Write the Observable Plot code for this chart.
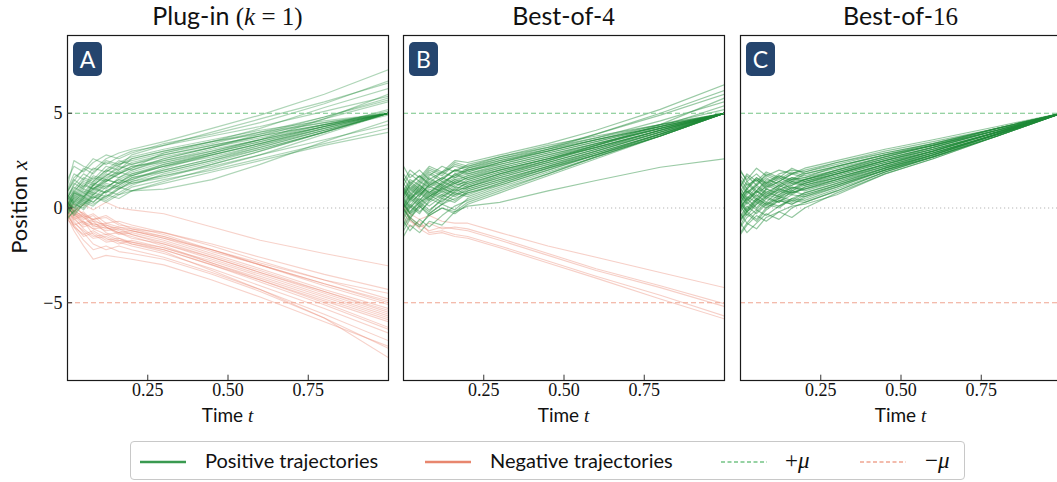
<!DOCTYPE html>
<html>
<head>
<meta charset="utf-8">
<script src="https://cdn.jsdelivr.net/npm/d3@7"></script>
<script src="https://cdn.jsdelivr.net/npm/@observablehq/plot@0.6"></script>
<style>
  html, body { margin: 0; padding: 0; background: #fff; }
  #root { position: relative; width: 1057px; height: 482px; overflow: hidden; background: #fff; font-family: Lato, "Liberation Sans", sans-serif; color: #111; }
  .abs { position: absolute; white-space: nowrap; }
  .title { font-size: 25px; text-align: center; width: 340px; }
  .xlab { font-size: 19px; line-height: 22px; text-align: center; width: 200px; }
  .m { font-family: "Liberation Serif", "DejaVu Serif", serif; }
  .mi { font-family: "Liberation Serif", "DejaVu Serif", serif; font-style: italic; }
  .badge { width: 29px; height: 34px; background: #25456e; color: #fff; border-radius: 5px; font-size: 23px; text-align: center; line-height: 34px; }
  #legend { left: 130px; top: 441px; width: 833px; height: 37px; border: 1px solid #c8c8c8; border-radius: 4px; background: #fff; }
  .lt { font-size: 20px; top: 6px; }
  .lt .m, .lt .mi { font-size: 23px; }
</style>
</head>
<body>
<div id="root"></div>
<script>
// ---------- data ----------
const T = [0, 0.02, 0.05, 0.08, 0.12, 0.16, 0.2, 0.3, 0.45, 0.6, 0.8, 1.0];
const xTicks = [0.25, 0.5, 0.75];
const yTicks = [-5, 0, 5];
const mu = 5;

const posA = [
  [0.2, 0.8, 0.5, 1.2, 1.0, 1.6, 1.9, 2.4, 3.0, 3.6, 4.3, 5.0],
  [-0.3, 0.1, 0.6, 0.3, 0.9, 1.3, 1.5, 2.1, 2.8, 3.4, 4.2, 5.0],
  [0.5, 1.2, 1.8, 1.5, 2.2, 2.0, 2.6, 3.0, 3.5, 3.9, 4.5, 5.0],
  [0.1, -0.4, 0.2, 0.7, 0.5, 1.0, 1.3, 1.6, 2.3, 3.0, 4.0, 5.0],
  [0.8, 1.5, 1.1, 1.9, 2.4, 2.2, 2.8, 3.3, 4.0, 4.7, 5.6, 6.6],
  [-0.1, 0.4, 1.0, 0.8, 1.4, 1.8, 2.1, 2.6, 3.2, 3.8, 4.7, 5.6],
  [0.3, 0.0, 0.5, 1.1, 0.8, 1.2, 1.6, 1.9, 2.5, 3.2, 4.1, 5.0],
  [0.0, 0.6, 0.3, 0.9, 1.5, 1.3, 1.7, 2.3, 2.9, 3.5, 4.3, 5.0],
  [1.2, 2.5, 2.2, 2.0, 2.6, 2.9, 3.1, 3.5, 4.2, 4.9, 6.0, 7.3],
  [-0.5, -0.2, 0.4, 0.2, 0.6, 1.1, 0.9, 1.4, 2.1, 2.8, 3.9, 5.0],
  [0.4, 0.9, 1.4, 1.2, 1.7, 2.1, 2.3, 2.7, 3.2, 3.7, 4.4, 5.0],
  [0.6, 0.2, 0.7, 1.3, 1.1, 1.5, 1.8, 2.2, 2.7, 3.3, 4.1, 4.9],
  [-0.2, 0.3, -0.1, 0.5, 0.9, 0.7, 1.1, 1.5, 2.0, 2.6, 3.4, 4.2],
  [0.9, 1.6, 2.0, 2.6, 2.3, 2.7, 3.0, 3.3, 3.8, 4.3, 5.1, 5.9],
  [0.2, 0.7, 1.3, 1.0, 1.6, 1.9, 2.2, 2.5, 3.1, 3.6, 4.4, 5.1],
  [-0.4, 0.2, 0.0, 0.6, 0.4, 0.8, 1.2, 1.8, 2.4, 3.1, 4.0, 5.0],
  [0.7, 1.1, 0.8, 1.4, 2.0, 1.8, 2.1, 2.9, 3.4, 4.0, 4.8, 5.7],
  [0.0, 0.5, 1.1, 1.7, 1.5, 2.0, 2.4, 2.8, 3.3, 3.8, 4.4, 5.0],
  [0.3, -0.2, 0.3, 0.1, 0.7, 0.5, 0.9, 1.3, 1.9, 2.5, 3.3, 4.0],
  [1.0, 1.8, 1.5, 2.1, 1.9, 2.4, 2.7, 3.1, 3.6, 4.1, 4.6, 5.0],
  [-0.6, -0.1, 0.5, 0.3, 0.9, 1.2, 1.6, 2.0, 2.6, 3.3, 4.2, 5.0],
  [0.1, 0.8, 0.6, 1.2, 1.7, 2.2, 2.0, 2.6, 3.2, 3.9, 4.8, 5.8],
  [0.5, 1.3, 1.0, 1.6, 1.4, 1.8, 2.2, 2.4, 2.9, 3.5, 4.3, 5.0],
  [-0.3, 0.3, 0.8, 0.5, 1.1, 1.5, 1.3, 1.7, 2.3, 3.0, 4.0, 5.0],
  [0.2, 0.0, 0.6, 1.0, 0.8, 1.4, 1.7, 2.2, 2.9, 3.6, 4.7, 6.0],
  [0.6, 1.0, 1.6, 1.4, 2.0, 2.5, 2.3, 2.8, 3.3, 3.8, 4.4, 5.0],
  [0.0, -0.3, 0.2, 0.6, 0.3, 0.7, 0.9, 1.0, 1.5, 2.3, 3.5, 4.6],
  [1.5, 2.2, 1.9, 2.4, 2.8, 2.6, 2.9, 3.4, 3.9, 4.5, 5.5, 6.7],
  [0.4, 0.9, 0.6, 1.2, 1.8, 1.6, 2.0, 2.5, 3.0, 3.6, 4.3, 5.0],
  [-0.2, 0.4, 0.1, 0.7, 1.2, 1.0, 1.4, 1.9, 2.5, 3.1, 4.0, 5.0],
  [0.3, 0.8, 1.5, 1.3, 1.9, 2.3, 2.6, 3.0, 3.5, 4.0, 4.5, 5.0],
  [0.7, 0.3, 0.9, 0.7, 1.3, 1.1, 1.5, 2.0, 2.6, 3.2, 4.1, 5.0],
  [-0.1, 0.6, 1.2, 1.0, 1.5, 1.3, 1.8, 2.3, 2.8, 3.4, 4.3, 5.2],
  [0.2, 0.5, 0.2, 0.8, 0.6, 1.0, 1.4, 1.7, 2.2, 2.8, 3.6, 4.4],
  [0.9, 1.4, 2.1, 1.8, 2.5, 2.3, 2.5, 2.9, 3.5, 4.2, 5.3, 6.3],
  [0.0, 0.7, 0.4, 1.0, 1.4, 1.9, 1.7, 2.2, 2.8, 3.4, 4.2, 5.0]
];

const negA = [
  [0.1, -0.2, 0.2, -0.1, 0.3, 0.0, -0.1, -0.3, -1.0, -1.7, -2.4, -3.05],
  [-0.2, -0.6, -1.0, -0.8, -1.1, -1.0, -1.2, -1.6, -2.4, -3.2, -4.3, -5.3],
  [0.0, -0.4, -0.2, -0.7, -0.9, -1.2, -1.4, -1.9, -2.7, -3.5, -4.6, -5.7],
  [0.3, -0.1, -0.5, -0.3, -0.8, -0.7, -0.9, -1.3, -2.0, -2.8, -3.8, -4.8],
  [-0.4, -0.9, -1.5, -1.3, -1.7, -1.6, -1.8, -2.2, -3.0, -3.8, -4.9, -6.0],
  [0.1, -0.3, -0.8, -1.1, -1.0, -1.3, -1.5, -2.0, -2.9, -3.8, -5.0, -6.3],
  [-0.1, 0.2, -0.4, -0.6, -0.5, -0.9, -1.0, -1.4, -2.2, -3.0, -4.1, -5.1],
  [-0.5, -1.2, -2.0, -2.7, -2.5, -2.6, -2.7, -3.0, -3.8, -4.7, -6.0, -7.3],
  [0.2, -0.2, -0.6, -0.4, -1.0, -1.4, -1.3, -1.7, -2.5, -3.3, -4.4, -5.5],
  [-0.3, -0.8, -1.2, -1.6, -1.5, -1.8, -2.0, -2.4, -3.2, -4.1, -5.3, -6.6],
  [0.0, -0.5, -0.3, -0.9, -1.2, -1.1, -1.4, -1.8, -2.6, -3.4, -4.5, -5.6],
  [-0.2, -0.7, -1.3, -1.9, -2.2, -2.0, -2.2, -2.6, -3.4, -4.3, -5.6, -7.0],
  [0.4, 0.0, -0.3, -0.6, -0.4, -0.8, -1.1, -1.5, -2.2, -3.0, -4.0, -5.0],
  [-0.6, -1.0, -1.4, -1.2, -1.6, -1.9, -1.7, -2.1, -2.8, -3.6, -4.7, -5.8],
  [0.1, -0.4, -0.9, -0.7, -1.3, -1.6, -1.9, -2.3, -3.3, -4.3, -5.8, -7.9],
  [-0.1, -0.6, -0.4, -1.0, -0.9, -1.1, -1.2, -1.5, -2.3, -3.0, -4.0, -4.9],
  [0.3, -0.2, -0.7, -1.1, -1.4, -1.3, -1.6, -1.9, -2.6, -3.4, -4.4, -5.4],
  [-0.3, -1.0, -1.7, -2.2, -2.0, -2.3, -2.4, -2.7, -3.5, -4.4, -5.8, -7.4],
  [0.0, -0.3, -0.8, -0.6, -1.0, -1.3, -1.2, -1.6, -2.2, -2.9, -3.8, -4.5],
  [-0.4, -0.9, -0.7, -1.4, -1.8, -1.7, -1.9, -2.2, -3.0, -3.9, -5.1, -6.4],
  [0.2, -0.1, -0.5, -0.9, -0.8, -1.0, -1.1, -1.3, -1.9, -2.6, -3.5, -4.3],
  [-0.2, -0.5, -1.1, -1.5, -1.4, -1.7, -1.8, -2.1, -2.9, -3.7, -4.8, -5.9]
];

const posB = [
  [0.3, 0.8, 0.4, 1.0, 0.7, 1.2, 1.4, 1.9, 2.6, 3.2, 4.1, 5.0],
  [-0.5, 0.1, -0.3, 0.4, 0.9, 0.6, 1.0, 1.5, 2.2, 2.9, 3.9, 5.0],
  [1.2, 1.8, 1.4, 2.0, 1.7, 2.3, 2.1, 2.6, 3.1, 3.6, 4.3, 5.0],
  [0.0, -0.6, 0.2, -0.2, 0.5, 0.3, 0.8, 1.3, 2.1, 2.9, 3.9, 5.0],
  [0.7, 1.3, 0.9, 1.6, 1.2, 1.8, 2.0, 2.5, 3.1, 3.7, 4.6, 5.6],
  [-1.2, -0.6, -1.0, -0.3, 0.2, -0.1, 0.5, 1.1, 1.9, 2.7, 3.8, 5.0],
  [0.5, 0.1, 0.8, 0.4, 1.1, 1.5, 1.3, 1.8, 2.4, 3.1, 4.0, 5.0],
  [2.2, 1.6, 2.0, 1.5, 1.9, 2.2, 2.0, 2.4, 3.0, 3.6, 4.3, 5.0],
  [-0.2, 0.5, 1.0, 0.6, 1.2, 0.9, 1.4, 1.9, 2.5, 3.2, 4.1, 5.0],
  [0.9, 0.4, 1.1, 0.7, 1.3, 1.7, 1.9, 2.4, 3.1, 3.9, 5.0, 6.2],
  [-0.8, -0.2, 0.3, -0.1, 0.4, 0.8, 0.6, 1.2, 2.0, 2.8, 3.8, 5.0],
  [0.4, 1.0, 0.6, 1.3, 1.0, 1.4, 1.7, 2.1, 2.7, 3.3, 4.2, 5.0],
  [1.6, 1.0, 1.5, 2.1, 1.8, 2.4, 2.2, 2.7, 3.3, 3.8, 4.4, 5.0],
  [0.1, 0.6, 0.2, 0.7, 0.3, 0.9, 1.1, 1.6, 2.3, 3.0, 4.0, 5.0],
  [-1.5, -0.9, -1.3, -0.7, -0.9, -0.2, 0.3, 0.9, 1.8, 2.7, 3.8, 5.0],
  [0.6, 1.2, 1.7, 1.3, 1.9, 1.6, 2.0, 2.3, 2.9, 3.5, 4.3, 5.0],
  [0.2, -0.3, 0.3, 0.8, 0.5, 1.0, 1.3, 1.8, 2.5, 3.3, 4.4, 5.8],
  [1.0, 0.5, 0.9, 1.5, 1.2, 1.6, 1.8, 2.2, 2.8, 3.4, 4.2, 5.0],
  [-0.4, 0.2, -0.2, 0.3, 0.7, 0.4, 0.9, 1.4, 2.1, 2.8, 3.9, 5.0],
  [0.8, 1.4, 1.0, 1.7, 2.2, 1.9, 2.3, 2.7, 3.2, 3.7, 4.4, 5.0],
  [0.0, 0.4, 0.9, 0.5, 1.0, 1.3, 1.1, 1.7, 2.4, 3.1, 4.1, 5.0],
  [-0.9, -0.4, 0.1, -0.3, 0.2, 0.5, 0.8, 1.2, 2.0, 2.8, 3.8, 5.0],
  [1.4, 2.0, 1.6, 2.2, 1.9, 2.5, 2.4, 2.8, 3.4, 4.1, 5.2, 6.5],
  [0.3, -0.2, 0.4, 0.9, 0.6, 1.1, 1.0, 1.5, 2.2, 3.0, 4.0, 5.0],
  [0.6, 1.1, 0.7, 1.2, 1.6, 1.3, 1.6, 2.0, 2.6, 3.3, 4.2, 5.0],
  [-0.3, 0.3, 0.7, 1.2, 0.8, 1.3, 1.6, 2.1, 2.7, 3.4, 4.2, 5.0],
  [1.1, 0.6, 1.2, 0.8, 1.4, 1.1, 1.5, 2.0, 2.6, 3.3, 4.3, 5.4],
  [-0.7, -1.2, -0.6, -1.0, -0.4, 0.1, 0.4, 1.0, 1.8, 2.7, 3.8, 5.0],
  [0.5, 0.9, 1.4, 1.1, 1.5, 2.0, 1.8, 2.3, 2.9, 3.5, 4.3, 5.0],
  [0.2, 0.7, 0.3, 0.6, 1.0, 0.8, 1.2, 1.7, 2.4, 3.1, 4.1, 5.0],
  [1.8, 1.3, 1.7, 1.2, 1.6, 2.0, 2.2, 2.6, 3.2, 3.9, 4.9, 6.0],
  [-0.1, -0.5, 0.0, 0.5, 0.2, 0.7, 0.9, 1.4, 2.2, 2.9, 3.9, 5.0],
  [0.9, 1.5, 1.2, 1.8, 1.4, 1.7, 2.1, 2.5, 3.0, 3.6, 4.3, 5.0],
  [-0.6, 0.0, 0.5, 0.1, 0.6, 1.0, 0.7, 1.3, 2.1, 2.8, 3.9, 5.0],
  [0.4, 0.0, 0.6, 1.1, 0.9, 1.4, 1.2, 1.8, 2.5, 3.2, 4.1, 5.0],
  [0.7, 1.2, 0.8, 1.4, 1.1, 1.5, 1.7, 2.2, 2.8, 3.4, 4.2, 5.0],
  [-1.0, -0.5, -0.9, -0.4, 0.0, -0.3, 0.2, 0.8, 1.7, 2.6, 3.8, 5.0],
  [0.1, 0.7, 1.2, 0.8, 1.3, 1.8, 1.5, 2.0, 2.6, 3.2, 4.1, 5.0],
  [1.3, 0.8, 1.3, 1.9, 1.5, 2.0, 1.9, 2.4, 3.0, 3.6, 4.4, 5.2],
  [0.0, 0.5, 0.1, 0.6, 1.1, 0.7, 1.1, 1.6, 2.3, 3.0, 4.0, 5.0],
  [0.2, -0.3, 0.1, -0.4, 0.0, -0.2, 0.1, 0.3, 0.9, 1.45, 2.15, 2.6]
];

const negB = [
  [0.2, -0.3, -0.6, -0.4, -0.7, -0.8, -0.8, -1.3, -2.0, -2.6, -3.4, -4.2],
  [-0.3, -0.7, -1.0, -0.8, -1.1, -1.0, -1.1, -1.6, -2.4, -3.2, -4.1, -5.05],
  [0.0, -0.5, -0.9, -1.2, -1.0, -1.1, -1.2, -1.7, -2.5, -3.3, -4.2, -5.2],
  [-0.5, -1.0, -0.7, -1.3, -1.2, -1.4, -1.5, -2.0, -2.8, -3.6, -4.6, -5.7],
  [0.1, -0.6, -1.1, -1.4, -1.3, -1.5, -1.6, -2.1, -2.9, -3.7, -4.8, -5.85]
];

const posC = [
  [0.3, 0.9, 0.5, 1.0, 0.8, 1.3, 1.2, 1.7, 2.4, 3.1, 4.0, 5.0],
  [-0.6, -0.1, 0.4, 0.1, 0.6, 0.4, 0.8, 1.3, 2.1, 2.8, 3.9, 5.0],
  [1.5, 1.0, 1.6, 1.3, 1.8, 2.0, 1.9, 2.3, 2.9, 3.4, 4.2, 5.0],
  [0.0, 0.5, 0.0, 0.6, 1.0, 0.8, 1.1, 1.5, 2.2, 2.9, 3.9, 5.0],
  [0.8, 0.3, 0.9, 1.4, 1.1, 1.5, 1.6, 2.0, 2.6, 3.2, 4.1, 5.0],
  [-1.3, -0.8, -1.1, -0.5, -0.2, -0.5, 0.0, 0.8, 1.8, 2.6, 3.8, 5.0],
  [0.5, 1.1, 1.6, 1.2, 1.7, 1.4, 1.8, 2.2, 2.8, 3.3, 4.2, 5.0],
  [-0.2, 0.3, -0.1, 0.5, 0.3, 0.9, 0.7, 1.2, 2.0, 2.7, 3.8, 5.0],
  [2.0, 1.4, 1.8, 1.3, 1.7, 1.5, 1.9, 2.4, 3.0, 3.5, 4.2, 5.0],
  [0.4, -0.1, 0.5, 0.2, 0.7, 1.1, 0.9, 1.4, 2.2, 2.9, 3.9, 5.0],
  [-0.9, -0.3, -0.7, -0.1, 0.4, 0.2, 0.6, 1.1, 2.0, 2.7, 3.9, 5.0],
  [1.1, 1.7, 1.2, 1.8, 1.5, 1.9, 1.7, 2.1, 2.7, 3.3, 4.1, 5.0],
  [0.2, 0.7, 1.2, 0.8, 1.2, 0.9, 1.3, 1.8, 2.5, 3.1, 4.0, 5.0],
  [-0.4, 0.1, -0.3, 0.2, 0.0, 0.5, 0.4, 1.0, 1.9, 2.7, 3.8, 5.0],
  [0.9, 1.4, 0.9, 1.5, 1.3, 1.6, 1.5, 1.9, 2.6, 3.2, 4.1, 5.0],
  [0.1, -0.4, 0.2, 0.7, 0.5, 1.0, 1.3, 1.7, 2.4, 3.0, 4.0, 5.0],
  [1.7, 1.2, 1.5, 1.0, 1.4, 1.8, 1.6, 2.2, 2.8, 3.4, 4.2, 5.0],
  [-0.7, -0.2, 0.2, 0.6, 0.3, 0.7, 0.6, 1.2, 2.1, 2.8, 3.9, 5.0],
  [0.6, 0.2, 0.7, 0.3, 0.9, 0.7, 1.1, 1.6, 2.3, 3.0, 4.0, 5.0],
  [0.3, 0.8, 1.3, 1.7, 1.4, 1.8, 2.0, 2.4, 2.9, 3.4, 4.2, 5.0],
  [-1.0, -0.5, -0.1, -0.4, 0.1, 0.4, 0.3, 0.9, 1.9, 2.7, 3.8, 5.0],
  [1.3, 0.8, 1.2, 1.6, 1.2, 1.5, 1.4, 1.8, 2.5, 3.1, 4.0, 5.0],
  [0.0, 0.6, 0.3, 0.9, 0.6, 1.1, 1.0, 1.5, 2.3, 3.0, 4.0, 5.0],
  [-0.3, -0.8, -0.2, 0.3, 0.1, 0.5, 0.8, 1.3, 2.1, 2.9, 3.9, 5.0],
  [0.7, 1.3, 0.8, 1.1, 1.6, 1.3, 1.5, 2.0, 2.7, 3.3, 4.1, 5.0],
  [0.2, -0.2, 0.4, 0.8, 0.6, 0.9, 1.2, 1.6, 2.3, 2.9, 3.9, 5.0],
  [-1.4, -0.9, -0.4, -0.7, -0.2, 0.1, 0.2, 0.7, 1.8, 2.6, 3.8, 5.0],
  [1.0, 0.5, 1.1, 0.7, 1.2, 1.6, 1.4, 1.9, 2.6, 3.2, 4.1, 5.0],
  [0.4, 0.9, 0.4, 1.0, 0.7, 1.2, 1.5, 1.9, 2.5, 3.1, 4.0, 5.0],
  [-0.5, 0.0, 0.5, 0.2, 0.5, 0.3, 0.7, 1.2, 2.0, 2.8, 3.9, 5.0],
  [1.9, 1.5, 2.1, 1.7, 2.0, 1.8, 2.1, 2.5, 3.1, 3.6, 4.3, 5.0],
  [0.1, 0.5, 0.9, 0.6, 1.1, 1.4, 1.2, 1.6, 2.3, 3.0, 4.0, 5.0],
  [-0.8, -1.3, -0.8, -0.3, -0.6, 0.0, 0.3, 0.9, 1.9, 2.7, 3.8, 5.0],
  [0.6, 1.0, 0.6, 1.2, 0.9, 1.4, 1.3, 1.8, 2.5, 3.2, 4.1, 5.0],
  [0.3, -0.2, 0.3, 0.0, 0.5, 0.8, 1.0, 1.4, 2.1, 2.8, 3.9, 5.0],
  [1.2, 1.8, 1.4, 1.9, 1.6, 2.1, 1.8, 2.2, 2.8, 3.3, 4.2, 5.0],
  [-0.1, 0.4, 0.9, 0.5, 1.0, 0.8, 1.0, 1.5, 2.2, 2.9, 3.9, 5.0],
  [0.8, 0.4, 0.8, 1.3, 1.0, 1.2, 1.5, 2.0, 2.7, 3.3, 4.1, 5.0],
  [-0.6, -0.2, -0.6, 0.0, 0.4, 0.2, 0.5, 1.1, 2.0, 2.8, 3.9, 5.0],
  [0.5, 1.0, 1.5, 1.1, 1.4, 1.0, 1.4, 1.8, 2.4, 3.0, 4.0, 5.0]
];

const panelLetters = ["A", "B", "C"];
const legendLabels = ["Positive trajectories", "Negative trajectories", "+μ", "−μ"];

// ---------- styling ----------
const GREEN = "#1f8a38";
const RED = "#e8826b";
const GREEN_DASH = "#74c485";
const RED_DASH = "#f0a591";
const Y_DOMAIN = [-9.1, 9.1];
const FRAME_W = 321, MT = 35, MB = 32, FRAME_H = 345;

function toRows(set, key) {
  return set.flatMap((traj, i) => traj.map((x, j) => ({t: T[j], x, id: key + i})));
}

function makePanel({pos, neg, showY, marginLeft, opacity}) {
  const marks = [
    Plot.ruleY([0], {stroke: "#b5b5b5", strokeWidth: 1, strokeDasharray: "1.2,2.8"}),
    neg ? Plot.line(toRows(neg, "n"), {x: "t", y: "x", z: "id", stroke: RED, strokeOpacity: opacity.neg, strokeWidth: 1.1, clip: true}) : null,
    Plot.line(toRows(pos, "p"), {x: "t", y: "x", z: "id", stroke: GREEN, strokeOpacity: opacity.pos, strokeWidth: 1.2, clip: true}),
    Plot.ruleY([mu], {stroke: GREEN_DASH, strokeWidth: 1.1, strokeDasharray: "5,3"}),
    Plot.ruleY([-mu], {stroke: RED_DASH, strokeWidth: 1.1, strokeDasharray: "5,3"}),
    Plot.ruleX(xTicks, {y1: Y_DOMAIN[0], y2: Y_DOMAIN[0] + 0.28, stroke: "#333", strokeWidth: 1}),
    Plot.axisX(xTicks, {tickSize: 0, tickPadding: 3, tickFormat: d3.format(".2f"), label: null}),
    Plot.frame({stroke: "#1a1a1a", strokeWidth: 1.2})
  ];
  if (showY) {
    marks.push(Plot.ruleY(yTicks, {x1: 0, x2: 0.016, stroke: "#333", strokeWidth: 1}));
    marks.push(Plot.axisY(yTicks, {tickSize: 0, tickPadding: 5, label: null}));
  }
  return Plot.plot({
    width: marginLeft + FRAME_W + 2,
    height: MT + FRAME_H + MB,
    marginLeft, marginRight: 2, marginTop: MT, marginBottom: MB,
    x: {domain: [0, 1]},
    y: {domain: Y_DOMAIN, axis: showY ? undefined : null},
    style: {fontFamily: "'Liberation Serif', 'DejaVu Serif', serif", fontSize: "18px", background: "transparent", maxWidth: "none", overflow: "visible", color: "#111"},
    marks
  });
}

const root = document.getElementById("root");
function place(el, left, top) {
  el.style.position = "absolute"; el.style.left = left + "px"; el.style.top = top + "px";
  root.appendChild(el);
}
function html(cls, left, top, inner, extra) {
  const d = document.createElement("div");
  d.className = "abs " + cls;
  d.style.left = left + "px"; d.style.top = top + "px";
  if (extra) Object.assign(d.style, extra);
  d.innerHTML = inner;
  root.appendChild(d);
  return d;
}

const frames = [67, 403, 740];
place(makePanel({pos: posA, neg: negA, showY: true, marginLeft: 67, opacity: {pos: 0.36, neg: 0.36}}), 0, 0);
place(makePanel({pos: posB, neg: negB, showY: false, marginLeft: 2, opacity: {pos: 0.45, neg: 0.38}}), 401, 0);
place(makePanel({pos: posC, neg: null, showY: false, marginLeft: 2, opacity: {pos: 0.48, neg: 0}}), 738, 0);

// titles
const titles = [
  'Plug-in <span class="m">(</span><span class="mi">k</span><span class="m"> = 1)</span>',
  'Best-of-<span class="m">4</span>',
  'Best-of-<span class="m">16</span>'
];
frames.forEach((fx, i) => {
  html("title", fx + FRAME_W / 2 - 170, 0, titles[i]);
  html("xlab", fx + FRAME_W / 2 - 100, 404, 'Time <span class="mi">t</span>');
  html("badge", fx + 6, 42, panelLetters[i]);
});

// y label
html("", -42, 194, 'Position <span class="mi">x</span>', {fontSize: "22px", transform: "rotate(-90deg)", width: "120px", textAlign: "center", transformOrigin: "60px 13px"});

// legend
const leg = html("", 130, 441, "", {});
leg.id = "legend";
function sample(x, color, dash) {
  const s = document.createElementNS("http://www.w3.org/2000/svg", "svg");
  s.setAttribute("width", 48); s.setAttribute("height", 6);
  s.style.position = "absolute"; s.style.left = x + "px"; s.style.top = "17px";
  const l = document.createElementNS("http://www.w3.org/2000/svg", "line");
  l.setAttribute("x1", 0); l.setAttribute("x2", 46); l.setAttribute("y1", 3); l.setAttribute("y2", 3);
  l.setAttribute("stroke", color); l.setAttribute("stroke-width", dash ? 1.3 : 2.4);
  if (dash) l.setAttribute("stroke-dasharray", "4,2.5");
  s.appendChild(l); leg.appendChild(s);
}
function ltext(x, inner) {
  const d = document.createElement("div");
  d.className = "abs lt"; d.style.left = x + "px"; d.innerHTML = inner; leg.appendChild(d);
}
sample(9, "#3a9a50", false); ltext(74, legendLabels[0]);
sample(294, "#e8866e", false); ltext(359, legendLabels[1]);
sample(590, GREEN_DASH, true); ltext(654, '<span class="m">+</span><span class="mi">μ</span>');
sample(729, RED_DASH, true); ltext(794, '<span class="m">−</span><span class="mi">μ</span>');
</script>
</body>
</html>
